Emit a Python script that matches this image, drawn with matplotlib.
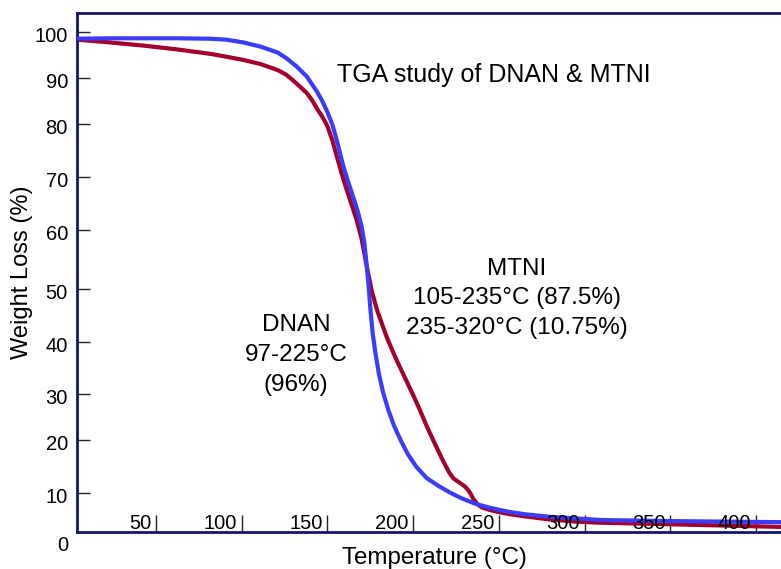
import numpy as np
import matplotlib.pyplot as plt
from matplotlib.transforms import ScaledTranslation

plt.rcParams['font.family'] = ['Liberation Sans', 'DejaVu Sans']

# TGA curves: temperature (C) and remaining weight (%)
dnan_temp = [4, 23, 43, 62, 82, 91, 101, 111, 121, 126, 132, 138, 144, 147,
             150, 153, 156, 159, 162, 165, 168, 170, 171.5, 172.9, 174.2,
             175.3, 176.5, 178, 180, 182.5, 185.5, 189, 193, 197, 202, 208,
             215, 222, 229, 237, 245, 255, 265, 280, 295, 310, 350, 415]
dnan_wt = [98.5, 98.6, 98.6, 98.6, 98.5, 98.3, 97.7, 96.8, 95.5, 94.3, 92.5,
           90.3, 87.0, 85.0, 82.6, 79.8, 76.3, 72.4, 69.2, 66.3, 63.2, 60.6,
           58.0, 54.2, 50.0, 45.5, 41.5, 38.0, 34.0, 30.3, 26.6, 23.0, 19.8,
           17.3, 14.9, 12.8, 11.3, 10.0, 8.9, 7.9, 7.2, 6.5, 6.0, 5.5, 5.2,
           4.9, 4.7, 4.5]

mtni_temp = [4, 23, 43, 62, 82, 91, 101, 111, 121, 126, 132, 138, 141, 144,
             147, 150, 153, 156, 159.3, 163, 167, 170, 173, 176, 179.2, 182,
             185, 190, 195, 200, 204, 208, 212.7, 217.6, 221, 223.4, 227.3,
             230, 232, 233.5, 235.5, 237.5, 240, 244.8, 250, 256.5, 265,
             279.8, 295, 309, 350, 415]
mtni_wt = [98.3, 97.7, 97.0, 96.2, 95.2, 94.6, 93.9, 93.0, 91.7, 90.7, 88.8,
           86.7, 85.2, 83.3, 81.6, 79.6, 76.8, 73.3, 69.6, 65.9, 62.0, 58.5,
           53.8, 49.5, 45.8, 43.3, 40.6, 36.8, 33.3, 29.8, 26.5, 23.0, 19.3,
           16.0, 13.9, 12.8, 11.9, 11.3, 10.6, 9.9, 8.7, 7.9, 7.3, 6.8, 6.4,
           6.0, 5.6, 5.0, 4.6, 4.4, 4.1, 3.6]

x_ticks = [50, 100, 150, 200, 250, 300, 350, 400]
y_ticks = [10, 20, 30, 40, 50, 60, 70, 80, 90, 100]

# the original y axis is not evenly spaced, so keep its spacing as a scale
y_scale_vals = np.array([0, 10, 20, 30, 40, 50, 60, 70, 80, 90, 100, 110])
y_scale_px = np.array([546, 493, 440, 394, 342, 289, 230, 177, 124, 78, 32, -14])


def fwd(v):
    return -np.interp(v, y_scale_vals, y_scale_px)


def inv(p):
    return np.interp(p, -y_scale_px, y_scale_vals)


navy = '#141478'
blue = '#3b3bfa'
red = '#a3002b'

fig = plt.figure(figsize=(7.81, 5.69), dpi=100)
ax = fig.add_axes([0.0986, 0.065, 0.9014, 0.9122])

ax.plot(mtni_temp, mtni_wt, color=red, lw=3, solid_joinstyle='round', zorder=2)
ax.plot(dnan_temp, dnan_wt, color=blue, lw=3, solid_joinstyle='round', zorder=3)

ax.set_yscale('function', functions=(fwd, inv))
ax.set_xlim(4, 414.6)
ax.set_ylim(2.64, 104.1)

for side in ['left', 'top', 'bottom']:
    ax.spines[side].set_color(navy)
    ax.spines[side].set_linewidth(2)
ax.spines['right'].set_visible(False)

ax.set_yticks(y_ticks)
ax.set_yticklabels([str(v) for v in y_ticks])
ax.tick_params(axis='y', direction='in', length=9.5, width=1, color='#222222',
               pad=6.5, labelsize=14.5)
ax.minorticks_off()
# labels sit a little below their tick marks in the original
for lbl in ax.get_yticklabels():
    lbl.set_transform(lbl.get_transform() + ScaledTranslation(0, -0.03, fig.dpi_scale_trans))

ax.set_xticks(x_ticks)
ax.set_xticklabels([])
ax.tick_params(axis='x', direction='in', length=12.5, width=1, color='#222222')
for t in x_ticks:
    ax.annotate(str(t), xy=(t, 0), xycoords=('data', 'axes fraction'),
                xytext=(-3.5, 2), textcoords='offset points',
                ha='right', va='baseline', fontsize=14.5)

ax.annotate('0', xy=(0, 0), xycoords='axes fraction', xytext=(-6.5, -9.5),
            textcoords='offset points', ha='right', va='center', fontsize=14.5)

ax.set_xlabel('Temperature (°C)', fontsize=17.4)
ax.xaxis.set_label_coords(0.508, -0.029)
ax.set_ylabel('Weight Loss (%)', fontsize=17)
ax.yaxis.set_label_coords(-0.062, 0.5)

ax.text(0.592, 0.880, 'TGA study of DNAN & MTNI', transform=ax.transAxes,
        ha='center', va='center', fontsize=18)
ax.text(0.625, 0.450, 'MTNI\n105-235°C (87.5%)\n235-320°C (10.75%)',
        transform=ax.transAxes, ha='center', va='center', multialignment='center',
        fontsize=17.5, linespacing=1.45)
ax.text(0.311, 0.341, 'DNAN\n97-225°C\n(96%)', transform=ax.transAxes,
        ha='center', va='center', multialignment='center',
        fontsize=17.5, linespacing=1.45)

fig.savefig('out.png', dpi=100)
